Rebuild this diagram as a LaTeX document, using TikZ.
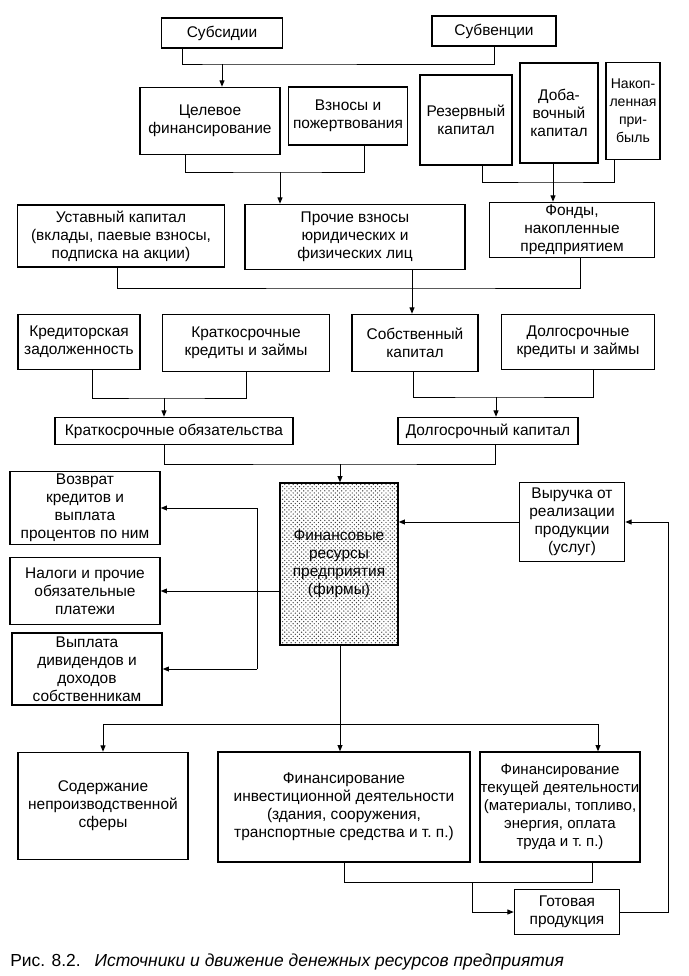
\documentclass[tikz,border=0pt]{standalone}
\usepackage{fontspec}
\setmainfont{Liberation Sans}
\usetikzlibrary{positioning, arrows.meta, patterns}

\begin{document}
\begin{tikzpicture}[
    x=0.025cm, y=-0.025cm,
    box/.style={draw=black, line width=0.9pt, align=center, inner sep=0.5pt,
        font=\fontsize{11}{12.8}\selectfont},
    shaded/.style={pattern=crosshatch dots, pattern color=black!75},
    conn/.style={line width=0.7pt},
    >={Triangle[length=4.5pt,width=3.5pt]}
]
    \useasboundingbox (0,0) rectangle (689,976);

    % Subsidies and subventions
    \node[box, minimum width=3.03cm, minimum height=0.75cm] (subs) at (222,33) {Субсидии};
    \node[box, minimum width=3.1cm, minimum height=0.75cm] (subv) at (494,31) {Субвенции};

    % Second row
    \node[box, minimum width=3.5cm, minimum height=1.68cm] (celev) at (210,121) {Целевое\\финансирование};
    \node[box, minimum width=2.98cm, minimum height=1.45cm] (vznos) at (348,116) {Взносы и\\пожертвования};
    \node[box, minimum width=2.3cm, minimum height=2.25cm] (rezerv) at (466,120) {Резервный\\капитал};
    \node[box, minimum width=1.95cm, minimum height=2.5cm] (dobav) at (559,113) {Доба-\\вочный\\капитал};
    \node[box, minimum width=1.35cm, minimum height=2.43cm, font=\fontsize{10}{12.8}\selectfont] (nakop) at (633,111) {Накоп-\\ленная\\при-\\быль};

    % Third row
    \node[box, minimum width=5.18cm, minimum height=1.55cm] (ustav) at (121,236) {Уставный капитал\\(вклады, паевые взносы,\\подписка на акции)};
    \node[box, minimum width=5.5cm, minimum height=1.63cm] (proch) at (355,237) {Прочие взносы\\юридических и\\физических лиц};
    \node[box, minimum width=4.13cm, minimum height=1.38cm] (fondy) at (572,230) {Фонды,\\накопленные\\предприятием};

    % Fourth row
    \node[box, minimum width=3.05cm, minimum height=1.38cm] (kredzad) at (79,342) {Кредиторская\\задолженность};
    \node[box, minimum width=4.18cm, minimum height=1.43cm] (kratkred) at (246,343) {Краткосрочные\\кредиты и займы};
    \node[box, minimum width=3.15cm, minimum height=1.43cm] (sobst) at (415,343) {Собственный\\капитал};
    \node[box, minimum width=3.83cm, minimum height=1.38cm] (dolgkred) at (578,342) {Долгосрочные\\кредиты и займы};

    % Short and long term
    \node[box, minimum width=5.95cm, minimum height=0.68cm] (kratob) at (174,431) {Краткосрочные обязательства};
    \node[box, minimum width=4.5cm, minimum height=0.68cm] (dolgkap) at (488,431) {Долгосрочный капитал};

    % Financial resources
    \node[box, shaded, minimum width=2.95cm, minimum height=4.05cm] (finres) at (339,564) {Финансовые\\ресурсы\\предприятия\\(фирмы)};
    \node[box, minimum width=3.75cm, minimum height=1.83cm] (vozvrat) at (85,508) {Возврат\\кредитов и\\выплата\\процентов по ним};
    \node[box, minimum width=3.75cm, minimum height=1.68cm] (nalogi) at (85,591) {Налоги и прочие\\обязательные\\платежи};
    \node[box, minimum width=3.75cm, minimum height=1.8cm] (vyplata) at (87,669) {Выплата\\дивидендов и\\доходов\\собственникам};
    \node[box, minimum width=2.63cm, minimum height=1.98cm] (vyruch) at (572,522) {Выручка от\\реализации\\продукции\\(услуг)};

    % Bottom row
    \node[box, minimum width=4.25cm, minimum height=2.68cm] (soderzh) at (103,806) {Содержание\\непроизводственной\\сферы};
    \node[box, minimum width=6.3cm, minimum height=2.75cm] (fininv) at (344,807) {Финансирование\\инвестиционной деятельности\\(здания, сооружения,\\транспортные средства и т.~п.)};
    \node[box, minimum width=4cm, minimum height=2.75cm, font=\fontsize{10.7}{12.8}\selectfont] (fintek) at (560,807) {Финансирование\\текущей деятельности\\(материалы, топливо,\\энергия, оплата\\труда и т.~п.)};
    \node[box, minimum width=2.63cm, minimum height=1.13cm] (gotov) at (567,912) {Готовая\\продукция};

    % Caption
    \node[anchor=west, inner sep=0pt, font=\fontsize{12.4}{14}\selectfont] (cap) at (10,962) {Рис. 8.2.\hspace{0.8em}\textit{Источники и движение денежных ресурсов предприятия}};

    % Joints
    \coordinate (j1) at (222,64);
    \coordinate (j2) at (280,172);
    \coordinate (j3) at (553,182);
    \coordinate (j4) at (412,288);
    \coordinate (j5) at (164,398);
    \coordinate (j6) at (496,397);
    \coordinate (j7) at (340,464);
    \coordinate (vl) at (257,592);
    \coordinate (j9) at (340,724);
    \coordinate (j10) at (472,882);
    \coordinate (rt) at (668,522);

    % Connectors
    \draw[conn] ([xshift=0.55cm]subs.south west) |- (j1) -| (subv.south);
    \draw[conn, ->] (j1) -- (j1 |- celev.north);

    \draw[conn] ([xshift=1.15cm]celev.south west) |- (j2) -| ([xshift=1.93cm]vznos.south west);
    \draw[conn, ->] (j2) -- (j2 |- proch.north);

    \draw[conn] ([xshift=1.58cm]rezerv.south west) |- (j3) -| ([xshift=0.23cm]nakop.south west);
    \draw[conn, ->] (dobav.south -| j3) -- (j3 |- fondy.north);

    \draw[conn] ([xshift=-0.08cm]ustav.south) |- (j4) -| ([xshift=0.2cm]fondy.south);
    \draw[conn, ->] (proch.south -| j4) -- (j4 |- sobst.north);

    \draw[conn] ([xshift=1.88cm]kredzad.south west) |- (j5) -| (kratkred.south);
    \draw[conn, ->] (j5) -- (j5 |- kratob.north);

    \draw[conn] ([xshift=-0.05cm]sobst.south) |- (j6) -| ([xshift=0.38cm]dolgkred.south);
    \draw[conn, ->] (j6) -- (j6 |- dolgkap.north);

    \draw[conn] (kratob.south -| j5) |- (j7) -| ([xshift=0.18cm]dolgkap.south);
    \draw[conn, ->] (j7) -- (j7 |- finres.north);

    \draw[conn, ->] (finres.west |- nalogi.east) -- (nalogi.east);
    \draw[conn] (vl |- vozvrat.east) -- (vl |- vyplata.east);
    \draw[conn, ->] (vl |- vozvrat.east) -- (vozvrat.east);
    \draw[conn, ->] (vl |- vyplata.east) -- (vyplata.east);

    \draw[conn, ->] (vyruch.west) -- (finres.east |- vyruch.west);

    \draw[conn] (finres.south -| j9) -- (j9);
    \draw[conn, ->] (j9) -- (j9 |- fininv.north);
    \draw[conn, ->] (j9) -| (soderzh.north);
    \draw[conn, ->] (j9) -| ([xshift=0.95cm]fintek.north);

    \draw[conn] (fininv.south) |- (j10) -| ([xshift=0.8cm]fintek.south);
    \draw[conn, ->] (j10) |- (gotov.west);

    \draw[conn, ->] (gotov.east) -| (rt |- vyruch.east) -- (vyruch.east);
\end{tikzpicture}
\end{document}
